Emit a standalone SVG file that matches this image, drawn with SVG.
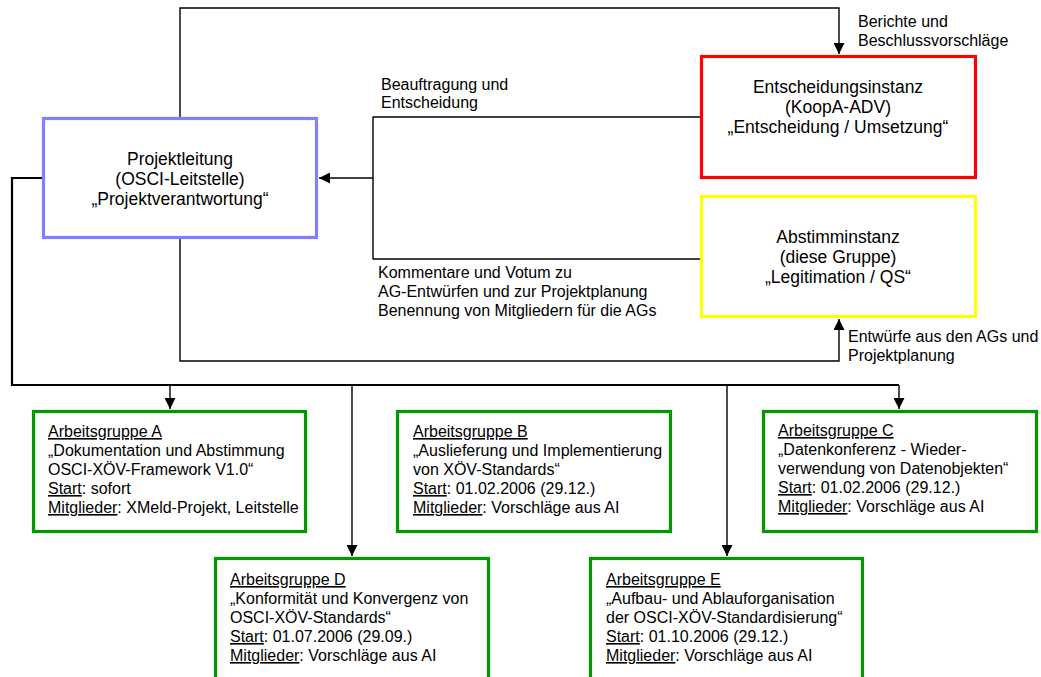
<svg xmlns="http://www.w3.org/2000/svg" width="1041" height="677" viewBox="0 0 1041 677">
<style>
text{font-family:"Liberation Sans",Arial,sans-serif;fill:#000}
.big{font-size:17.5px;text-anchor:middle}
.sm{font-size:16px}
.lbl{font-size:16px}
.u{text-decoration:underline}
.ln{fill:none;stroke:#000;stroke-width:1.4}
.bus{fill:none;stroke:#000;stroke-width:2.2}
.box{fill:#fff;stroke-width:3.2}
.g{stroke:#009900}
</style>
<defs>
<marker id="ah" markerUnits="userSpaceOnUse" markerWidth="11" markerHeight="11" refX="10" refY="5" orient="auto" viewBox="0 0 10 10">
<path d="M0,0 L10,5 L0,10 z" fill="#000"/>
</marker>
</defs>
<rect width="1041" height="677" fill="#fff"/>
<g id="connectors">
<path class="ln" d="M180,117 V8 H839 V54" marker-end="url(#ah)"/>
<path class="ln" d="M700,117 H373 V259 H700"/>
<path class="ln" d="M373,178 H319" marker-end="url(#ah)"/>
<path class="ln" d="M180,239 V361 H839 V319" marker-end="url(#ah)"/>
<path class="bus" d="M42,178 H12 V385 H899"/>
<path class="ln" d="M170,385 V409" marker-end="url(#ah)"/>
<path class="ln" d="M352,385 V556" marker-end="url(#ah)"/>
<path class="ln" d="M727,385 V556" marker-end="url(#ah)"/>
<path class="ln" d="M899,385 V409" marker-end="url(#ah)"/>
<text class="lbl" x="381" y="90">Beauftragung und</text>
<text class="lbl" x="381" y="108">Entscheidung</text>
<text class="lbl" x="858" y="27">Berichte und</text>
<text class="lbl" x="858" y="46">Beschlussvorschläge</text>
<text class="lbl" x="378" y="278">Kommentare und Votum zu</text>
<text class="lbl" x="378" y="297">AG-Entwürfen und zur Projektplanung</text>
<text class="lbl" x="378" y="316">Benennung von Mitgliedern für die AGs</text>
<text class="lbl" x="848" y="342">Entwürfe aus den AGs und</text>
<text class="lbl" x="848" y="361">Projektplanung</text>
</g>
<g id="projektleitung">
<rect class="box" x="43.5" y="118.5" width="273" height="119" stroke="#7F7FFF"/>
<text class="big" x="180" y="165">Projektleitung</text>
<text class="big" x="180" y="185">(OSCI-Leitstelle)</text>
<text class="big" x="180" y="205">„Projektverantwortung“</text>
</g>
<g id="entscheidungsinstanz">
<rect class="box" x="701.5" y="56.5" width="274" height="121" stroke="#FF0000"/>
<text class="big" x="838" y="93">Entscheidungsinstanz</text>
<text class="big" x="838" y="113">(KoopA-ADV)</text>
<text class="big" x="838" y="133">„Entscheidung / Umsetzung“</text>
</g>
<g id="abstimminstanz">
<rect class="box" x="701.5" y="196.5" width="274" height="120" stroke="#FFFF00"/>
<text class="big" x="838" y="243">Abstimminstanz</text>
<text class="big" x="838" y="263">(diese Gruppe)</text>
<text class="big" x="838" y="283">„Legitimation / QS“</text>
</g>
<g id="ag-a">
<rect class="box g" x="33.5" y="411.5" width="272" height="120"/>
<text class="sm" x="48" y="437"><tspan class="u">Arbeitsgruppe A</tspan></text>
<text class="sm" x="48" y="456">„Dokumentation und Abstimmung</text>
<text class="sm" x="48" y="475">OSCI-XÖV-Framework V1.0“</text>
<text class="sm" x="48" y="494"><tspan class="u">Start</tspan>: sofort</text>
<text class="sm" x="48" y="513"><tspan class="u">Mitglieder</tspan>: XMeld-Projekt, Leitstelle</text>
</g>
<g id="ag-b">
<rect class="box g" x="397.5" y="411.5" width="273" height="120"/>
<text class="sm" x="413" y="437"><tspan class="u">Arbeitsgruppe B</tspan></text>
<text class="sm" x="413" y="456">„Auslieferung und Implementierung</text>
<text class="sm" x="413" y="475">von XÖV-Standards“</text>
<text class="sm" x="413" y="494"><tspan class="u">Start</tspan>: 01.02.2006 (29.12.)</text>
<text class="sm" x="413" y="513"><tspan class="u">Mitglieder</tspan>: Vorschläge aus AI</text>
</g>
<g id="ag-c">
<rect class="box g" x="763.5" y="411.5" width="273" height="120"/>
<text class="sm" x="778" y="436"><tspan class="u">Arbeitsgruppe C</tspan></text>
<text class="sm" x="778" y="455">„Datenkonferenz - Wieder-</text>
<text class="sm" x="778" y="474">verwendung von Datenobjekten“</text>
<text class="sm" x="778" y="493"><tspan class="u">Start</tspan>: 01.02.2006 (29.12.)</text>
<text class="sm" x="778" y="512"><tspan class="u">Mitglieder</tspan>: Vorschläge aus AI</text>
</g>
<g id="ag-d">
<rect class="box g" x="215.5" y="558.5" width="273" height="130"/>
<text class="sm" x="230" y="585"><tspan class="u">Arbeitsgruppe D</tspan></text>
<text class="sm" x="230" y="604">„Konformität und Konvergenz von</text>
<text class="sm" x="230" y="623">OSCI-XÖV-Standards“</text>
<text class="sm" x="230" y="642"><tspan class="u">Start</tspan>: 01.07.2006 (29.09.)</text>
<text class="sm" x="230" y="661"><tspan class="u">Mitglieder</tspan>: Vorschläge aus AI</text>
</g>
<g id="ag-e">
<rect class="box g" x="590.5" y="558.5" width="272" height="130"/>
<text class="sm" x="606" y="585"><tspan class="u">Arbeitsgruppe E</tspan></text>
<text class="sm" x="606" y="604">„Aufbau- und Ablauforganisation</text>
<text class="sm" x="606" y="623">der OSCI-XÖV-Standardisierung“</text>
<text class="sm" x="606" y="642"><tspan class="u">Start</tspan>: 01.10.2006 (29.12.)</text>
<text class="sm" x="606" y="661"><tspan class="u">Mitglieder</tspan>: Vorschläge aus AI</text>
</g>
</svg>
